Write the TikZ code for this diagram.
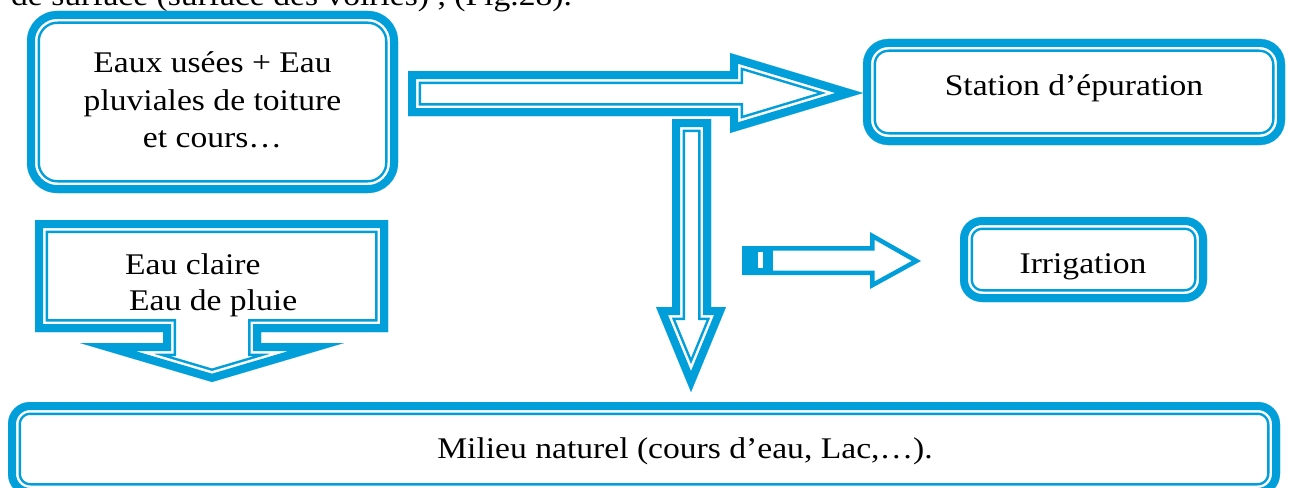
\documentclass[tikz,border=0pt]{standalone}
\usepackage{fontspec}
\setmainfont{Liberation Serif}[FakeStretch=1.12]
\definecolor{cb}{HTML}{009FDA}
\newcommand\dframe[2]{%
  \begin{scope}
    \clip[#1] #2;
    \fill[white,#1] #2;
    \draw[cb,line width=26,#1] #2;
    \draw[white,line width=21,#1] #2;
    \draw[cb,line width=16,#1] #2;
  \end{scope}}
\tikzset{
  lbl/.style={anchor=base,inner sep=0,font=\fontsize{30}{37.5}\selectfont},
  lblw/.style={anchor=base west,inner sep=0,font=\fontsize{30}{37.5}\selectfont},
}
\begin{document}
\begin{tikzpicture}[x=1pt,y=-1pt]
\clip (0,0) rectangle (1289,487);
\fill[white] (0,0) rectangle (1289,487);

% cut-off text at the top
\node[lblw] (top) at (11,6) {de surface (surface des voiries) , (Fig.28).};

% source box
\dframe{rounded corners=30}{(27,11) rectangle (398,193)}
\node[lbl] (src1) at (212.5,72) {Eaux usées + Eau};
\node[lbl] (src2) at (212.5,110) {pluviales de toiture};
\node[lbl] (src3) at (212.5,147) {et cours…};

% station box
\dframe{rounded corners=25}{(863,39) rectangle (1285,145)}
\node[lbl] (step) at (1074,95) {Station d’épuration};

% horizontal block arrow
\dframe{}{(408,71) -- (730,71) -- (730,53) -- (863,93) -- (730,133) -- (730,116) -- (408,116) -- cycle}

% vertical block arrow
\dframe{}{(672,119) -- (711,119) -- (711,307) -- (726,307) -- (691,392) -- (656,307) -- (672,307) -- cycle}

% eau claire callout
\dframe{}{(35,220) -- (388,220) -- (388,332) -- (261,332) -- (261,343) -- (344,343) -- (212,382) -- (80,343) -- (163,343) -- (163,332) -- (35,332) -- cycle}
\node[lblw] (clair1) at (125,274) {Eau claire};
\node[lblw] (clair2) at (129,310) {Eau de pluie};

% irrigation arrow
\begin{scope}
  \clip (742,246) -- (870,246) -- (870,232) -- (921,261) -- (870,289) -- (870,275) -- (742,275) -- cycle;
  \draw[cb,line width=9] (742,246) -- (870,246) -- (870,232) -- (921,261) -- (870,289) -- (870,275) -- (742,275) -- cycle;
  \fill[cb] (742,246) rectangle (773,275);
  \fill[white] (758,252) rectangle (763,268);
\end{scope}

% irrigation box
\dframe{rounded corners=22}{(960,217) rectangle (1207,302)}
\node[lbl] (irr) at (1083,273) {Irrigation};

% milieu naturel box
\dframe{rounded corners=22}{(8,402) rectangle (1280,496)}
\node[lbl] (milieu) at (685,458) {Milieu naturel (cours d’eau, Lac,…).};
\end{tikzpicture}
\end{document}
